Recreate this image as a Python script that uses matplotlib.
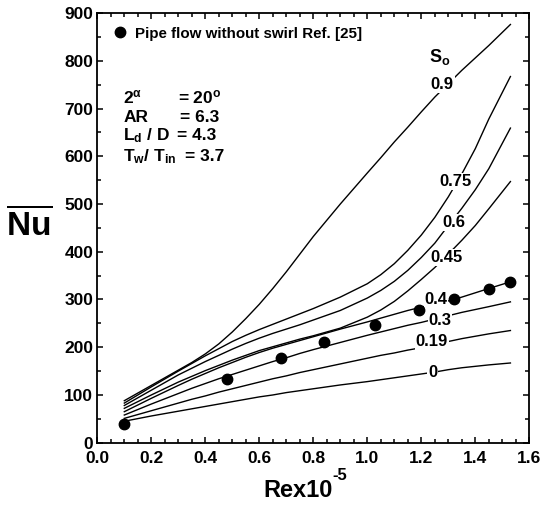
import matplotlib
matplotlib.use('Agg')
import matplotlib.pyplot as plt
from matplotlib.ticker import MultipleLocator, FormatStrFormatter

plt.rcParams['font.family'] = 'Liberation Sans'
plt.rcParams['font.weight'] = 'bold'
plt.rcParams['mathtext.fontset'] = 'custom'
plt.rcParams['mathtext.rm'] = 'Liberation Sans:bold'
plt.rcParams['mathtext.bf'] = 'Liberation Sans:bold'
plt.rcParams['mathtext.it'] = 'Liberation Sans:bold'

# Reynolds number (x1e-5) grid shared by all swirl curves
re = [0.1, 0.2, 0.3, 0.35, 0.4, 0.45, 0.5, 0.55, 0.6, 0.65, 0.7, 0.75, 0.8,
      0.9, 1.0, 1.05, 1.1, 1.15, 1.2, 1.25, 1.3, 1.35, 1.4, 1.45, 1.53]

nu_s090 = [88, 120, 152, 168, 186, 207, 232, 260, 290, 323, 358, 395, 432,
           500, 565, 597, 630, 661, 693, 724, 752, 780, 806, 832, 876]
nu_s075 = [83, 117, 150, 166, 182, 197, 212, 225, 237, 248, 259, 270, 281,
           305, 333, 352, 375, 403, 435, 472, 515, 563, 616, 678, 767]
nu_s060 = [78, 110, 142, 156, 170, 183, 196, 208, 219, 229, 238, 247, 257,
           277, 303, 319, 338, 361, 388, 418, 455, 491, 530, 574, 659]
nu_s045 = [72, 100, 127, 139, 151, 162, 173, 183, 193, 201, 209, 217, 224,
           240, 263, 278, 296, 318, 342, 367, 395, 424, 455, 490, 547]
nu_s040 = [65, 93, 120, 133, 145, 157, 168, 179, 189, 198, 206, 214, 222,
           238, 253, 261, 269, 277, 284, 290, 297, 305, 314, 323, 337]
nu_s030 = [58, 81, 103, 114, 124, 134, 143, 152, 161, 170, 178, 187, 195,
           210, 225, 232, 239, 246, 252, 259, 266, 273, 279, 285, 295]
nu_s019 = [51, 67, 83, 91, 98, 106, 113, 120, 127, 134, 140, 147, 153,
           165, 177, 183, 188, 194, 199, 205, 212, 218, 223, 228, 235]
nu_s000 = [45, 56, 66, 71, 76, 81, 86, 91, 96, 100, 105, 109, 113,
           121, 128, 132, 136, 140, 144, 148, 153, 157, 160, 163, 167]

# pipe flow without swirl, Ref. [25]
pipe_re = [0.1, 0.48, 0.68, 0.84, 1.03, 1.19, 1.32, 1.45, 1.53]
pipe_nu = [40, 133, 177, 210, 247, 277, 300, 323, 337]

curves = [nu_s090, nu_s075, nu_s060, nu_s045, nu_s040, nu_s030, nu_s019, nu_s000]
curve_names = ['0.9', '0.75', '0.6', '0.45', '0.4', '0.3', '0.19', '0']
label_pos = [(1.278, 751), (1.328, 547), (1.321, 461), (1.294, 388),
             (1.254, 301), (1.269, 257), (1.238, 211), (1.242, 147)]

fig = plt.figure(figsize=(5.43, 5.13), dpi=100, facecolor='white')
ax = fig.add_axes([0.1792, 0.1370, 0.7956, 0.8376])

for nu in curves:
    ax.plot(re, nu, color='black', lw=1.0, zorder=2)

for name, (lx, ly) in zip(curve_names, label_pos):
    ax.text(lx, ly, name, fontsize=12, fontweight='bold', ha='center', va='center',
            zorder=4, bbox=dict(facecolor='white', edgecolor='none', pad=0.6))

ax.plot(pipe_re, pipe_nu, 'o', color='black', ms=7.5, zorder=3,
        label='Pipe flow without swirl Ref. [25]')
ax.legend(loc='upper left', bbox_to_anchor=(0.041, 0.968), frameon=False,
          handlelength=0.6, handletextpad=0.7, borderaxespad=0, borderpad=0,
          prop={'weight': 'bold', 'size': 10.9})

ax.text(1.27, 808, r'S$_\mathregular{o}$', fontsize=13, fontweight='bold', ha='center', va='center')

# parameter block
params_left = [r'2$^{\alpha}$', 'AR', r'L$_\mathregular{d}$ / D', r'T$_\mathregular{w}$/ T$_\mathregular{in}$']
params_right = [r'= 20$^\mathregular{o}$', '= 6.3', '= 4.3', '= 3.7']
right_x = [0.187, 0.192, 0.185, 0.203]
base_y = [0.791, 0.747, 0.704, 0.655]
for lt, rt, rx, by in zip(params_left, params_right, right_x, base_y):
    ax.text(0.06, by, lt, transform=ax.transAxes, fontsize=12.5, fontweight='bold', va='baseline')
    ax.text(rx, by, rt, transform=ax.transAxes, fontsize=12.5, fontweight='bold', va='baseline')

ax.set_xlim(0.0, 1.6)
ax.set_ylim(0, 900)
ax.xaxis.set_major_locator(MultipleLocator(0.2))
ax.xaxis.set_minor_locator(MultipleLocator(0.05))
ax.yaxis.set_major_locator(MultipleLocator(100))
ax.yaxis.set_minor_locator(MultipleLocator(50))
ax.tick_params(which='both', direction='in', top=True, right=True, width=1.1)
ax.tick_params(which='major', length=4.5, labelsize=12.5, pad=6)
ax.tick_params(which='minor', length=3)
ax.tick_params(axis='y', which='major', pad=3)
ax.xaxis.set_major_formatter(FormatStrFormatter('%.1f'))
for lab in ax.get_xticklabels() + ax.get_yticklabels():
    lab.set_fontweight('bold')
for sp in ax.spines.values():
    sp.set_linewidth(1.3)

# x label with a plain hyphen in the exponent
fig.text(263 / 543, 1 - 497 / 513, 'Rex10', fontsize=17, fontweight='bold', ha='left', va='baseline')
fig.text(332 / 543, 1 - 480 / 513, '-5', fontsize=12, fontweight='bold', ha='left', va='baseline')

ax.set_ylabel(r'$\overline{\mathregular{Nu}}$', fontsize=24, fontweight='bold', rotation=0,
              ha='center', va='center')
ax.yaxis.set_label_coords(-0.158, 0.508)

plt.savefig('out.png', dpi=100, facecolor='white')
